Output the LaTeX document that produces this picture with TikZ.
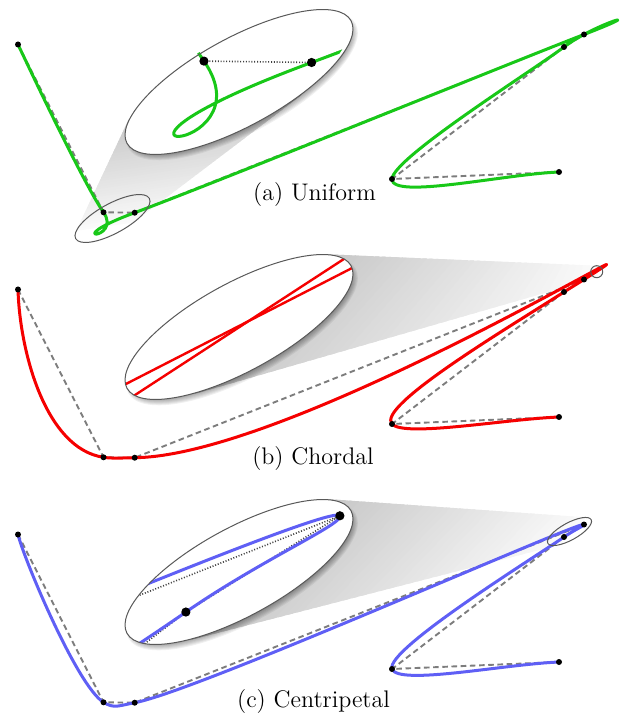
\documentclass[tikz,border=0pt]{standalone}
\usetikzlibrary{calc}
\definecolor{cgreen}{RGB}{24,200,24}
\definecolor{cred}{RGB}{245,0,0}
\definecolor{cblue}{RGB}{95,95,245}
\definecolor{cdash}{RGB}{125,125,125}
\tikzset{
 dashpoly/.style={cdash, line width=0.95pt, dash pattern=on 2.8pt off 1.8pt},
 dotpoly/.style={black!75, line width=0.8pt, dash pattern=on 0.5pt off 0.9pt},
 curvestyle/.style={line width=1.5pt, line cap=round, line join=round},
 ellout/.style={draw=black!65, line width=0.5pt},
 caption/.style={anchor=base, inner sep=0pt, font=\fontsize{12}{14}\selectfont},
}
% control points (pixel coordinates of panel a)
\newcommand\defpt[3]{\expandafter\def\csname crX#1\endcsname{#2}\expandafter\def\csname crY#1\endcsname{#3}}
\newcommand\crX[1]{\csname crX#1\endcsname}
\newcommand\crY[1]{\csname crY#1\endcsname}
\defpt{a}{18}{32}
\defpt{0}{18}{44.5}
\defpt{1}{103.5}{212.3}
\defpt{2}{134.7}{212.7}
\defpt{3}{584}{34.5}
\defpt{4}{564}{47}
\defpt{5}{392}{179}
\defpt{6}{559}{172}
\defpt{b}{726}{165}
% affine map p -> Cb + s (p - Cs)
\newcommand\setT[5]{\def\tS{#1}\def\tCsx{#2}\def\tCsy{#3}\def\tCbx{#4}\def\tCby{#5}}
\newcommand\crT[2]{(\fpeval{round(\tCbx+\tS*((#1)-(\tCsx)),3)},\fpeval{round(\tCby+\tS*((#2)-(\tCsy)),3)})}
\newcommand\crdist[2]{\fpeval{(((\crX{#2})-(\crX{#1}))^2+((\crY{#2})-(\crY{#1}))^2)^(\alphaCR/2)}}
\newcommand\crseg[4]{%
 \edef\crdZ{\crdist{#1}{#2}}%
 \edef\crdA{\crdist{#2}{#3}}%
 \edef\crdB{\crdist{#3}{#4}}%
 \edef\crmAx{\fpeval{((\crX{#3})-(\crX{#2}))+\crdA*(((\crX{#2})-(\crX{#1}))/\crdZ-((\crX{#3})-(\crX{#1}))/(\crdZ+\crdA))}}%
 \edef\crmAy{\fpeval{((\crY{#3})-(\crY{#2}))+\crdA*(((\crY{#2})-(\crY{#1}))/\crdZ-((\crY{#3})-(\crY{#1}))/(\crdZ+\crdA))}}%
 \edef\crmBx{\fpeval{((\crX{#3})-(\crX{#2}))+\crdA*(((\crX{#4})-(\crX{#3}))/\crdB-((\crX{#4})-(\crX{#2}))/(\crdA+\crdB))}}%
 \edef\crmBy{\fpeval{((\crY{#3})-(\crY{#2}))+\crdA*(((\crY{#4})-(\crY{#3}))/\crdB-((\crY{#4})-(\crY{#2}))/(\crdA+\crdB))}}%
 \edef\crpath{\crpath\space .. controls \crT{(\crX{#2})+(\crmAx)/3}{(\crY{#2})+(\crmAy)/3} and \crT{(\crX{#3})-(\crmBx)/3}{(\crY{#3})-(\crmBy)/3} .. \crT{\crX{#3}}{\crY{#3}}}%
}
\newcommand\buildcurve[1]{%
 \def\alphaCR{#1}%
 \edef\crpath{\crT{\crX{0}}{\crY{0}}}%
 \crseg{a}{0}{1}{2}\crseg{0}{1}{2}{3}\crseg{1}{2}{3}{4}\crseg{2}{3}{4}{5}\crseg{3}{4}{5}{6}\crseg{4}{5}{6}{b}%
 \edef\crpoly{\crT{\crX0}{\crY0} -- \crT{\crX1}{\crY1} -- \crT{\crX2}{\crY2} -- \crT{\crX3}{\crY3} -- \crT{\crX4}{\crY4} -- \crT{\crX5}{\crY5} -- \crT{\crX6}{\crY6}}%
}
\newcommand\drawpanel[3]{% alpha, colour, vertical offset
 \setT{1}{0}{0}{0}{#3}\buildcurve{#1}%
 \edef\tmp{\noexpand\draw[dashpoly] \crpoly; \noexpand\draw[curvestyle,#2] \crpath;}\tmp
 \foreach \i in {0,...,6}{\edef\tmp{\noexpand\fill \crT{\crX\i}{\crY\i} circle[radius=1.5pt];}\tmp}%
}
\def\ea{63.85pt}\def\eb{22pt}
\newcommand\bigellipse[2]{%
 \foreach \k in {0,...,6}{\fill[black,opacity=0.06,rotate around={28.7:(#1+3,#2+4)}] (#1+3,#2+4) ellipse[x radius=61.5pt+\k*0.55pt, y radius=19.8pt+\k*0.55pt];}%
 \fill[white,rotate around={28.7:(#1,#2)}] (#1,#2) ellipse[x radius=\ea,y radius=\eb];%
}
\newcommand\bigoutline[2]{\draw[ellout,rotate around={28.7:(#1,#2)}] (#1,#2) ellipse[x radius=\ea,y radius=\eb];}
\newcommand\drawinset[7]{% alpha colour s Csx Csy Cbx Cby
 \begin{scope}
 \clip[rotate around={28.7:(#6,#7)}] (#6,#7) ellipse[x radius=\ea,y radius=\eb];
 \setT{#3}{#4}{#5}{#6}{#7}\buildcurve{#1}%
 \edef\tmp{\noexpand\draw[dotpoly] \crpoly; \noexpand\draw[curvestyle,#2] \crpath;}\tmp
 \foreach \i in {0,...,6}{\edef\tmp{\noexpand\fill \crT{\crX\i}{\crY\i} circle[radius=2.3pt];}\tmp}%
 \end{scope}}
% gradient cone between a small and a big zoom region
\newcommand\cone[4]{%
 \foreach \j in {0,...,39}{%
  \pgfmathsetmacro\ta{\j/40}\pgfmathsetmacro\tb{min((\j+1.6)/40,1)}\pgfmathsetmacro\pc{4+40*\j/39}%
  \fill[gray!\pc] ($(#1)!\ta!(#2)$) -- ($(#1)!\tb!(#2)$) -- ($(#4)!\tb!(#3)$) -- ($(#4)!\ta!(#3)$) -- cycle;}}
\begin{document}
\begin{tikzpicture}[x=0.5pt,y=-0.5pt]
\useasboundingbox (0,0) rectangle (619,715);
% zoom cones
\coordinate (as1) at (76.2,230.9); \coordinate (ab1) at (128.6,119.7);
\coordinate (ab2) at (302.2,94.5); \coordinate (as2) at (133.3,222.6);
\coordinate (bs1) at (596.4,265.7); \coordinate (bb1) at (325.1,254.2);
\coordinate (bb2) at (194.8,393.8); \coordinate (bs2) at (598.3,277.5);
\coordinate (cs1) at (560.3,544.6); \coordinate (cb1) at (191.3,639.7);
\coordinate (cb2) at (326.7,499); \coordinate (cs2) at (586.5,517.4);
\cone{as1}{ab1}{ab2}{as2}
\cone{bs1}{bb1}{bb2}{bs2}
\cone{cs1}{cb1}{cb2}{cs2}
% panels
\drawpanel{0}{cgreen}{0}
\drawpanel{1}{cred}{245}
\drawpanel{0.5}{cblue}{490}
% small zoom regions
\draw[ellout,rotate around={28.7:(112.5,218.5)}] (112.5,218.5) ellipse[x radius=21pt,y radius=7.4pt];
\draw[ellout] (596.7,271.7) circle[radius=3pt];
\draw[ellout,rotate around={28.7:(569.5,531.5)}] (569.5,531.5) ellipse[x radius=12.35pt,y radius=4.3pt];
% (a) inset
\bigellipse{239}{82}
\drawinset{0}{cgreen}{3.45}{112.5}{218.5}{235}{82.5}
\bigoutline{239}{82}
% (b) inset
\bigellipse{239}{327}
\begin{scope}
\clip[rotate around={28.7:(239,327)}] (239,327) ellipse[x radius=\ea,y radius=\eb];
\draw[curvestyle,cred,line width=1.2pt] (100,397.3) -- (380,253.7);
\draw[curvestyle,cred,line width=1.2pt] (110,411.3) -- (380,235.5);
\end{scope}
\bigoutline{239}{327}
% (c) inset
\bigellipse{239}{572}
\drawinset{0.5}{cblue}{7.7}{570.9}{41.8}{239}{572}
\bigoutline{239}{572}
% captions
\node[caption] (capa) at (314.5,201) {(a) Uniform};
\node[caption] (capb) at (313,464) {(b) Chordal};
\node[caption] (capc) at (313.5,707) {(c) Centripetal};
\end{tikzpicture}
\end{document}
